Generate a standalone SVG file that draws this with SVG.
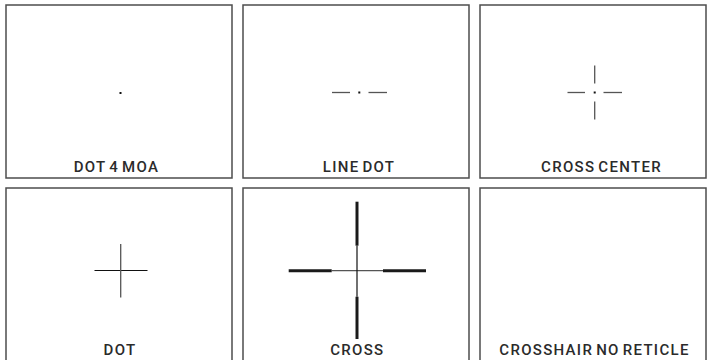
<svg xmlns="http://www.w3.org/2000/svg" width="709" height="360" viewBox="0 0 709 360">
<style>
.panel{fill:#fff;stroke:#4d4d4d;stroke-width:1.5}
.lbl{font-family:Roboto,"Liberation Sans",sans-serif;font-weight:500;font-size:15px;fill:#2b2b2b;letter-spacing:1.3px;word-spacing:-2px;text-anchor:middle}
.thin{stroke:#555;stroke-width:1.3;fill:none}
.blk{stroke:#111;stroke-width:1.2;fill:none}
.thick{stroke:#1a1a1a;stroke-width:3;fill:none}
.dot{fill:#111}
</style>
<rect width="709" height="360" fill="#fff"/>
<g id="dot4moa">
<rect class="panel" x="6" y="5" width="226" height="173"/>
<rect class="dot" x="119.5" y="92" width="2" height="2"/>
<text class="lbl" x="116.5" y="172">DOT 4 MOA</text>
</g>
<g id="linedot">
<rect class="panel" x="243" y="5" width="226" height="173"/>
<line class="thin" x1="332" y1="92.5" x2="350" y2="92.5"/>
<rect class="dot" x="358.3" y="91.5" width="2" height="2"/>
<line class="thin" x1="368.5" y1="92.5" x2="387" y2="92.5"/>
<text class="lbl" x="359" y="172">LINE DOT</text>
</g>
<g id="crosscenter">
<rect class="panel" x="480" y="5" width="226" height="173"/>
<line class="thin" x1="567.5" y1="92.5" x2="585" y2="92.5"/>
<line class="thin" x1="603.5" y1="92.5" x2="622" y2="92.5"/>
<line class="thin" x1="594.7" y1="65.5" x2="594.7" y2="83.5"/>
<line class="thin" x1="594.7" y1="101.5" x2="594.7" y2="119.5"/>
<rect class="dot" x="593.7" y="91.5" width="2" height="2"/>
<text class="lbl" x="601.5" y="172">CROSS CENTER</text>
</g>
<g id="dot">
<rect class="panel" x="6" y="188" width="226" height="180"/>
<line class="blk" x1="94.5" y1="270.5" x2="147.5" y2="270.5"/>
<line class="thin" x1="120.7" y1="244" x2="120.7" y2="297.5"/>
<text class="lbl" x="120" y="355">DOT</text>
</g>
<g id="cross">
<rect class="panel" x="243" y="188" width="226" height="180"/>
<line class="thin" x1="331.7" y1="270.7" x2="383" y2="270.7"/>
<line class="blk" x1="357" y1="245.7" x2="357" y2="296.7"/>
<line class="thick" x1="357" y1="201.7" x2="357" y2="245.7"/>
<line class="thick" x1="357" y1="296.7" x2="357" y2="339"/>
<line class="thick" x1="288.7" y1="270.7" x2="331.7" y2="270.7"/>
<line class="thick" x1="383" y1="270.7" x2="426" y2="270.7"/>
<text class="lbl" x="357.3" y="355">CROSS</text>
</g>
<g id="crosshairnoreticle">
<rect class="panel" x="480" y="188" width="226" height="180"/>
<text class="lbl" x="594.5" y="355">CROSSHAIR NO RETICLE</text>
</g>
<g id="connectors"/>
</svg>
